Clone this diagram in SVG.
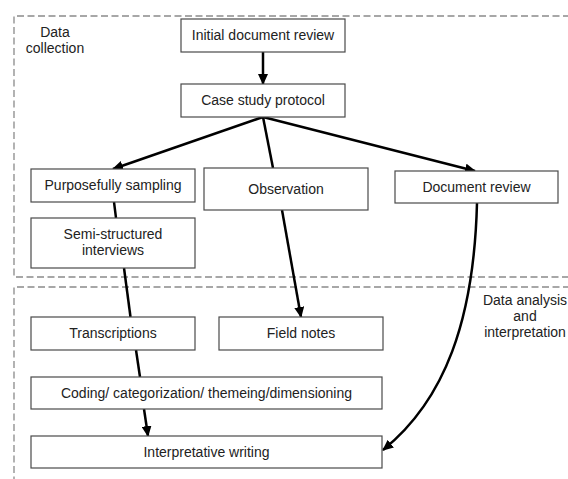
<svg xmlns="http://www.w3.org/2000/svg" width="568" height="479" viewBox="0 0 568 479">
<style>
.box{fill:#fff;stroke:#4a4a4a;stroke-width:1.2}
.lbl{font-family:"Liberation Sans",Arial,sans-serif;font-size:14px;fill:#222;text-anchor:middle}
.region{fill:none;stroke:#8a8a8a;stroke-width:1.3;stroke-dasharray:7 3.5}
.edge{fill:none;stroke:#000;stroke-width:2.5}
.arr{marker-end:url(#ah)}
</style>
<defs>
<marker id="ah" markerUnits="userSpaceOnUse" markerWidth="11" markerHeight="10" refX="10" refY="5" orient="auto">
<path d="M0,0 L11,5 L0,10 z" fill="#000"/>
</marker>
</defs>
<rect width="568" height="479" fill="#fff"/>
<g id="regions">
<path class="region" d="M570 16 H14 V277 H570"/>
<path class="region" d="M570 287 H14 V480"/>
<text class="lbl" x="55" y="37">Data</text>
<text class="lbl" x="55" y="53">collection</text>
<text class="lbl" x="525" y="305">Data analysis</text>
<text class="lbl" x="525" y="321">and</text>
<text class="lbl" x="525" y="337">interpretation</text>
</g>
<g id="connectors">
<path class="edge arr" d="M263 52 L263 84"/>
<path class="edge arr" d="M263 117 L113 169"/>
<path class="edge" d="M263 117 L273 168"/>
<path class="edge arr" d="M263 117 L475 171"/>
<path class="edge" d="M114 202 L116 218"/>
<path class="edge" d="M124 268 L130.5 317"/>
<path class="edge" d="M136 350 L140 377"/>
<path class="edge arr" d="M144 409 L148 436"/>
<path class="edge arr" d="M282 210 L301 317"/>
<path class="edge arr" d="M477 203 C474 320 445 400 383 450"/>
</g>
<g id="n-initial"><rect class="box" x="181" y="19" width="164" height="33"/><text class="lbl" x="263" y="40">Initial document review</text></g>
<g id="n-protocol"><rect class="box" x="181" y="84" width="164" height="33"/><text class="lbl" x="263" y="105">Case study protocol</text></g>
<g id="n-sampling"><rect class="box" x="31" y="169" width="164" height="33"/><text class="lbl" x="113" y="190">Purposefully sampling</text></g>
<g id="n-observation"><rect class="box" x="204" y="168" width="164" height="42"/><text class="lbl" x="286" y="194">Observation</text></g>
<g id="n-docreview"><rect class="box" x="395" y="171" width="163" height="32"/><text class="lbl" x="476.5" y="192">Document review</text></g>
<g id="n-interviews"><rect class="box" x="31" y="218" width="164" height="50"/><text class="lbl" x="113" y="239">Semi-structured</text><text class="lbl" x="113" y="255">interviews</text></g>
<g id="n-transcriptions"><rect class="box" x="31" y="317" width="164" height="33"/><text class="lbl" x="113" y="338">Transcriptions</text></g>
<g id="n-fieldnotes"><rect class="box" x="219" y="317" width="164" height="33"/><text class="lbl" x="301" y="338">Field notes</text></g>
<g id="n-coding"><rect class="box" x="31" y="377" width="351" height="32"/><text class="lbl" x="206.5" y="398">Coding/ categorization/ themeing/dimensioning</text></g>
<g id="n-writing"><rect class="box" x="31" y="436" width="351" height="32"/><text class="lbl" x="206.5" y="457">Interpretative writing</text></g>
</svg>
